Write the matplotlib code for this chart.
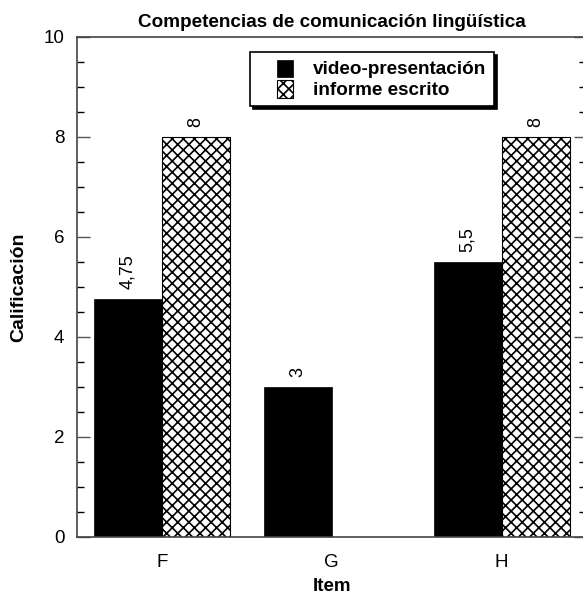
import matplotlib.pyplot as plt
import numpy as np
from matplotlib.ticker import MultipleLocator
from matplotlib.patches import Rectangle
from matplotlib.legend_handler import HandlerPatch

plt.rcParams['font.family'] = ['Liberation Sans', 'DejaVu Sans']
plt.rcParams['hatch.linewidth'] = 1.2

# data
items = ['F', 'G', 'H']
video = [4.75, 3, 5.5]
informe = [8, np.nan, 8]
video_lbl = ['4,75', '3', '5,5']
informe_lbl = ['8', '', '8']
series = ['video-presentación', 'informe escrito']

fig = plt.figure(figsize=(5.83, 5.96), dpi=100)
ax = fig.add_axes([0.132, 0.099, 0.874, 0.839])

x = np.arange(len(items))
w = 0.4
b1 = ax.bar(x - w, video, w, align='edge', color='black', edgecolor='black',
            linewidth=0.5)
b2 = ax.bar(x, informe, w, align='edge', color='white', edgecolor='black',
            hatch='xxx', linewidth=0.8)

for r, t in zip(b1, video_lbl):
    ax.text(r.get_x() + r.get_width() / 2, r.get_height() + 0.2, t,
            rotation=90, ha='center', va='bottom', fontsize=13)
for r, t in zip(b2, informe_lbl):
    if t:
        ax.text(r.get_x() + r.get_width() / 2, r.get_height() + 0.2, t,
                rotation=90, ha='center', va='bottom', fontsize=13)

ax.set_xlim(-0.5, 2.5)
ax.set_ylim(0, 10)
ax.set_xticks(x)
ax.set_xticklabels(items, fontsize=13.5)
ax.tick_params(axis='x', length=0, pad=12)
ax.yaxis.set_major_locator(MultipleLocator(2))
ax.yaxis.set_minor_locator(MultipleLocator(0.5))
ax.tick_params(axis='y', which='major', direction='in', length=9, width=1,
               right=True, labelsize=13.5, color='#555555', pad=9)
ax.tick_params(axis='y', which='minor', direction='in', length=5, width=1,
               right=True, color='black')
for s in ax.spines.values():
    s.set_linewidth(1.2)
    s.set_color('#444444')

ax.set_title('Competencias de comunicación lingüística', fontsize=13.6,
             fontweight='bold', pad=7)
ax.set_ylabel('Calificación', fontsize=14, fontweight='bold', labelpad=12)
ax.set_xlabel('Item', fontsize=13.5, fontweight='bold', labelpad=5)


def small_box(legend, orig_handle, xdescent, ydescent, width, height, fontsize):
    bw = 11.5
    return Rectangle((-xdescent + width - bw, -ydescent - 1), bw, height + 1)


leg = ax.legend([b1[0], b2[0]], series, loc='upper left',
                bbox_to_anchor=(0.340, 0.970), frameon=True,
                fancybox=False, shadow={'color': 'black', 'alpha': 1},
                handlelength=1.875, handleheight=0.95, handletextpad=1.06,
                labelspacing=0.1, borderpad=0.4, borderaxespad=0,
                handler_map={Rectangle: HandlerPatch(patch_func=small_box)},
                prop={'weight': 'bold', 'size': 13.6})
leg.get_frame().set_edgecolor('black')
leg.get_frame().set_linewidth(1.2)

fig.savefig('out.png', dpi=100)
